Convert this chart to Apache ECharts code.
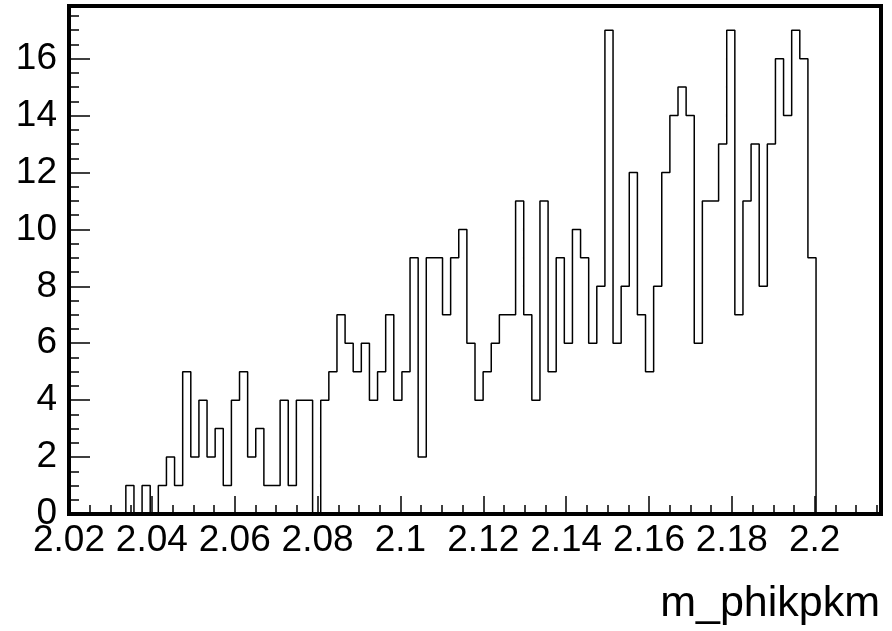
<!DOCTYPE html>
<html>
<head>
<meta charset="utf-8">
<script src="https://cdn.jsdelivr.net/npm/echarts@6/dist/echarts.min.js"></script>
<style>
  html, body { margin: 0; padding: 0; background: #fff; }
  #chart { width: 892px; height: 631px; }
</style>
</head>
<body>
<div id="chart"></div>
<script>
// Histogram range and contents (100 bins)
const xMin = 2.02;
const xMax = 2.216;
const nBins = 100;
const counts = [
  0, 0, 0, 0, 0, 0, 0, 1, 0, 1,
  0, 1, 2, 1, 5, 2, 4, 2, 3, 1,
  4, 5, 2, 3, 1, 1, 4, 1, 4, 4,
  0, 4, 5, 7, 6, 5, 6, 4, 5, 7,
  4, 5, 9, 2, 9, 9, 7, 9, 10, 6,
  4, 5, 6, 7, 7, 11, 7, 4, 11, 5,
  9, 6, 10, 9, 6, 8, 17, 6, 8, 12,
  7, 5, 8, 12, 14, 15, 14, 6, 11, 11,
  13, 17, 7, 11, 13, 8, 13, 16, 14, 17,
  16, 9, 0, 0, 0, 0, 0, 0, 0, 0
];
const yMin = 0;
const yMax = 17.85;
const xMajor = 0.02, xMinor = 0.005;
const yMajor = 2, yMinor = 0.5;
const xTitle = 'm_phikpkm';

const FONT = "'Liberation Sans', Arial, Helvetica, sans-serif";
const binWidth = (xMax - xMin) / nBins;
const histData = counts.map((c, i) => [xMin + i * binWidth, c]);
histData.push([xMax, counts[nBins - 1]]);

const tickStyle = { color: '#000', width: 1.5 };

const chart = echarts.init(document.getElementById('chart'), null, { renderer: 'canvas' });
chart.setOption({
  animation: false,
  backgroundColor: '#ffffff',
  grid: {
    left: 69, right: 11, top: 6, bottom: 117,
    show: true, borderColor: '#000', borderWidth: 4,
    backgroundColor: 'transparent',
    containLabel: false, outerBoundsMode: 'none'
  },
  xAxis: [
    {
      type: 'value', min: xMin, max: xMax, interval: xMajor, position: 'bottom',
      axisLine: { show: false }, splitLine: { show: false },
      axisTick: { show: true, inside: true, length: 18, lineStyle: tickStyle },
      axisLabel: { showMaxLabel: false, showMinLabel: true, margin: 8, color: '#000', fontSize: 37, fontFamily: FONT },
      name: xTitle, nameLocation: 'end', nameGap: -1,
      nameTextStyle: { fontSize: 43, color: '#000', fontFamily: FONT, align: 'right', verticalAlign: 'top', padding: [69, 0, 0, 0] }
    },
    {
      type: 'value', min: xMin, max: xMax, interval: xMinor, position: 'bottom',
      axisLine: { show: false }, splitLine: { show: false },
      axisTick: { show: true, inside: true, length: 9, lineStyle: tickStyle },
      axisLabel: { show: false }
    }
  ],
  yAxis: [
    {
      type: 'value', min: yMin, max: yMax, interval: yMajor, position: 'left',
      axisLine: { show: false }, splitLine: { show: false },
      axisTick: { show: true, inside: true, length: 21, lineStyle: tickStyle },
      axisLabel: { showMaxLabel: false, margin: 12, color: '#000', fontSize: 37, fontFamily: FONT }
    },
    {
      type: 'value', min: yMin, max: yMax, interval: yMinor, position: 'left',
      axisLine: { show: false }, splitLine: { show: false },
      axisTick: { show: true, inside: true, length: 10, lineStyle: tickStyle },
      axisLabel: { show: false }
    }
  ],
  series: [
    {
      type: 'line', xAxisIndex: 0, yAxisIndex: 0,
      step: 'end', symbol: 'none', silent: true,
      lineStyle: { color: '#000', width: 1.5 },
      data: histData
    }
  ]
});
</script>
</body>
</html>
